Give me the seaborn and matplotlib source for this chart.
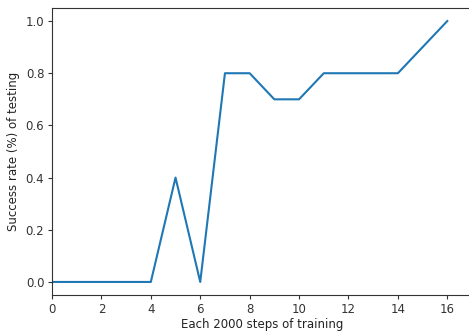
import matplotlib
matplotlib.use("Agg")
import matplotlib.pyplot as plt
import seaborn as sns
import pandas as pd

# Evaluation checkpoints (one per 2000 training steps) and success rate
checkpoints = [0, 1, 2, 3, 4, 5, 6, 7, 8, 9, 10, 11, 12, 13, 14, 15, 16]
success_rate = [0.0, 0.0, 0.0, 0.0, 0.0, 0.4, 0.0, 0.8, 0.8, 0.7, 0.7,
                0.8, 0.8, 0.8, 0.8, 0.9, 1.0]
x_ticks = [0, 2, 4, 6, 8, 10, 12, 14, 16]
y_ticks = [0.0, 0.2, 0.4, 0.6, 0.8, 1.0]

df = pd.DataFrame({"step": checkpoints, "rate": success_rate})

W, H = 469, 331
fig = plt.figure(figsize=(W / 100, H / 100), dpi=100)
ax = fig.add_axes([52 / W, 1 - 295 / H, (472 - 52) / W, (295 - 8) / H])

sns.lineplot(data=df, x="step", y="rate", ax=ax, color="#1f77b4", linewidth=1.5)

ax.set_xlim(0, 17)
ax.set_ylim(-0.05, 1.05)
ax.set_xticks(x_ticks)
ax.set_yticks(y_ticks)
ax.set_xticklabels([str(t) for t in x_ticks], fontsize=8.5, color="#333333")
ax.set_yticklabels([f"{t:.1f}" for t in y_ticks], fontsize=8.5, color="#333333")
ax.tick_params(length=3, pad=2.5, color="#333333")
for s in ax.spines.values():
    s.set_color("#333333")
ax.set_xlabel("Each 2000 steps of training", fontsize=8.5, labelpad=2, color="#222222")
ax.set_ylabel("Success rate (%) of testing", fontsize=8.5, labelpad=4, color="#222222")

fig.savefig("out.png", dpi=100)
